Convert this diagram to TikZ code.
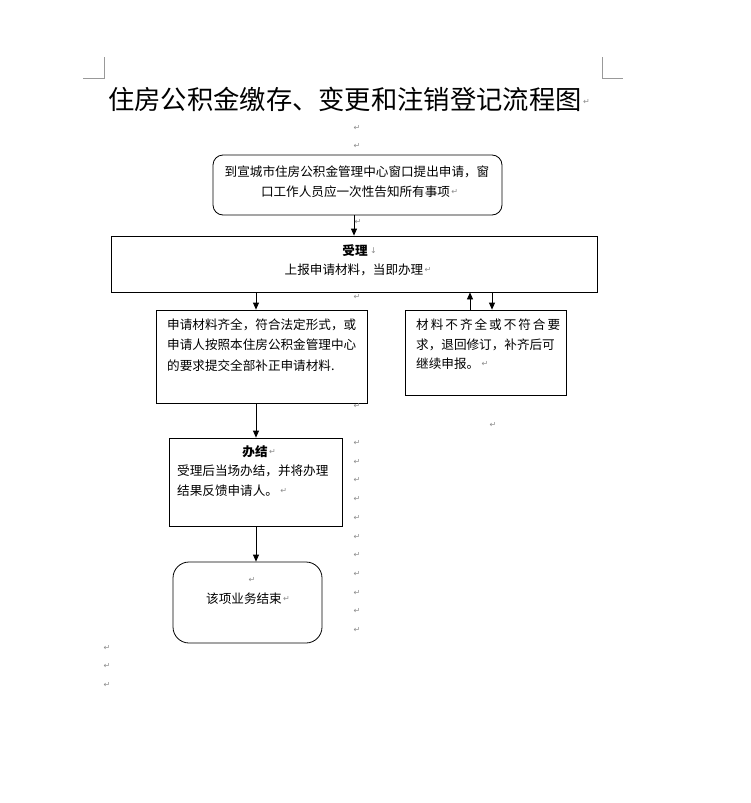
\documentclass[tikz,border=0pt]{standalone}
\usepackage{fontspec}
\newfontfamily\cjk{Noto Sans CJK SC}
\newfontfamily\symf{DejaVu Sans}
\usetikzlibrary{arrows.meta}
\begin{document}
\begin{tikzpicture}[x=1pt,y=-1pt,
  box/.style={draw, line width=0.8pt, inner sep=0},
  roundbox/.style={box, rounded corners=10pt},
  arr/.style={line width=0.8pt, -{Triangle[length=7pt,width=6pt]}},
  txt/.style={font=\cjk\fontsize{12.6}{14}\selectfont, inner sep=0},
  pm/.style={font=\symf\fontsize{8}{8}\selectfont, text=black!45, inner sep=0},
  cornermark/.style={draw=black!40, line width=0.8pt}]
\useasboundingbox (0,0) rectangle (750,803);
\fill[white] (0,0) rectangle (750,803);

% corner marks
\draw[cornermark] (83,78) -- (104,78) -- (104,57);
\draw[cornermark] (602,57) -- (602,78) -- (623,78);

% title
\node[anchor=west, font=\cjk\fontsize{26.3}{28}\selectfont, inner sep=0] (title) at (108,99) {住房公积金缴存、变更和注销登记流程图};
\node[pm, anchor=west] (pt) at ([xshift=1pt,yshift=-3pt]title.east) {↵};
\node[pm] (p1) at (357,128) {↵};
\node[pm] (p2) at (357,146) {↵};

% boxes
\node[roundbox, minimum width=289pt, minimum height=60pt] (b1) at (357.5,185) {};
\node[box, minimum width=486pt, minimum height=56pt] (b2) at (354,264) {};
\node[box, minimum width=211pt, minimum height=93pt] (b3) at (261.5,356.5) {};
\node[box, minimum width=161pt, minimum height=85pt] (b4) at (485.5,352.5) {};
\node[box, minimum width=173pt, minimum height=88pt] (b5) at (255.5,482) {};
\node[box, rounded corners=16pt, minimum width=149pt, minimum height=81pt] (b6) at (247.5,602.5) {};

% box 1 text
\node[txt] (t1a) at (357,172) {到宣城市住房公积金管理中心窗口提出申请，窗};
\node[txt] (t1b) at (355.5,192) {口工作人员应一次性告知所有事项};
\node[pm, anchor=west] at ([xshift=1pt]t1b.east) {↵};

% box 2 text
\node[txt, font=\cjk\bfseries\fontsize{12.6}{14}\selectfont] (t2a) at (355,251) {受理};
\node[pm, anchor=west] at ([xshift=2pt]t2a.east) {↓};
\node[txt] (t2b) at (354,270) {上报申请材料，当即办理};
\node[pm, anchor=west] at ([xshift=1pt]t2b.east) {↵};

% box 3 text
\node[txt, anchor=west] (t3a) at (167,325) {申请材料齐全，符合法定形式，或};
\node[txt, anchor=west] (t3b) at (167,345) {申请人按照本住房公积金管理中心};
\node[txt, anchor=west] (t3c) at (167,366) {的要求提交全部补正申请材料.};

% box 4 text
\node[txt, anchor=west] (t4a) at (416,325) {\makebox[144pt][s]{材\hfill 料\hfill 不\hfill 齐\hfill 全\hfill 或\hfill 不\hfill 符\hfill 合\hfill 要}};
\node[txt, anchor=west] (t4b) at (416,345) {求，退回修订，补齐后可};
\node[txt, anchor=west] (t4c) at (416,364) {继续申报。};
\node[pm, anchor=west] at ([xshift=2pt]t4c.east) {↵};

% box 5 text
\node[txt, font=\cjk\bfseries\fontsize{12.6}{14}\selectfont] (t5a) at (255,452) {办结};
\node[pm, anchor=west] at ([xshift=1pt]t5a.east) {↵};
\node[txt, anchor=west] (t5b) at (177,471) {受理后当场办结，并将办理};
\node[txt, anchor=west] (t5c) at (177,491) {结果反馈申请人。};
\node[pm, anchor=west] at ([xshift=2pt]t5c.east) {↵};

% box 6 text
\node[pm] (p6) at (252,580) {↵};
\node[txt] (t6) at (244,599) {该项业务结束};
\node[pm, anchor=west] at ([xshift=1pt]t6.east) {↵};

% connectors
\coordinate (xa) at (354,0);
\coordinate (xb) at (256,0);
\coordinate (xc) at (470,0);
\coordinate (xd) at (492,0);
\draw[arr] (b1.south -| xa) -- (b2.north -| xa);
\draw[arr] (b2.south -| xb) -- (b3.north -| xb);
\draw[arr] (b4.north -| xc) -- (b2.south -| xc);
\draw[arr] (b2.south -| xd) -- (b4.north -| xd);
\draw[arr] (b3.south -| xb) -- (b5.north -| xb);
\draw[arr] (b5.south -| xb) -- (b6.north -| xb);

% paragraph marks
\node[pm] at (358,222) {↵};
\node[pm] at (357,297) {↵};
\node[pm] at (357,406) {↵};
\node[pm] at (493,425) {↵};
\foreach \k in {0,...,10} {
  \node[pm] at (357,{443+18.7*\k}) {↵};
}
\node[pm] at (107,648) {↵};
\node[pm] at (107,666) {↵};
\node[pm] at (107,685) {↵};
\end{tikzpicture}
\end{document}
